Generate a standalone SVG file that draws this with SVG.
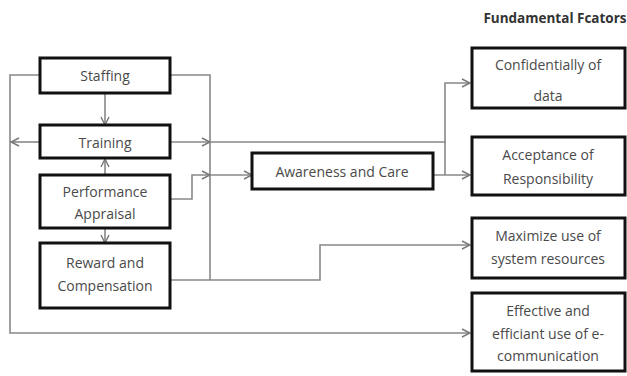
<svg xmlns="http://www.w3.org/2000/svg" width="627" height="376" viewBox="0 0 627 376">
<style>
.box{fill:#fff;stroke:#111;stroke-width:3}
.t{font-family:"Open Sans","Liberation Sans",sans-serif;font-size:14px;fill:#4a4a4a;text-anchor:middle;dominant-baseline:central}
.c{fill:none;stroke:#888;stroke-width:1.6}
</style>
<defs>
<marker id="a" viewBox="0 0 10 10" refX="9" refY="5" markerWidth="10" markerHeight="10" markerUnits="userSpaceOnUse" orient="auto">
<polyline points="1,1 9,5 1,9" fill="none" stroke="#777" stroke-width="1.4"/>
</marker>
</defs>
<rect width="627" height="376" fill="#fff"/>
<text x="555" y="18" class="t" style="font-weight:bold;font-size:13.5px;fill:#333">Fundamental Fcators</text>
<g id="connectors">
<path class="c" d="M40,75 H10 V333 H470" marker-end="url(#a)"/>
<path class="c" d="M40,142 H11" marker-end="url(#a)"/>
<path class="c" d="M170,75 H210 V280"/>
<path class="c" d="M170,280 H320 V245 H470" marker-end="url(#a)"/>
<path class="c" d="M170,142 H210" marker-end="url(#a)"/>
<path class="c" d="M210,142 H445 V83 H470" marker-end="url(#a)"/>
<path class="c" d="M170,199 H192 V175 H210" marker-end="url(#a)"/>
<path class="c" d="M210,175 H252" marker-end="url(#a)"/>
<path class="c" d="M433,175 H470" marker-end="url(#a)"/>
<path class="c" d="M445,142 V175"/>
<path class="c" d="M105,93 V125" marker-end="url(#a)"/>
<path class="c" d="M105,174 V159" marker-end="url(#a)"/>
<path class="c" d="M105,228 V243" marker-end="url(#a)"/>
</g>
<g id="staffing"><rect class="box" x="40" y="58" width="130" height="35"/><text class="t" x="105" y="75">Staffing</text></g>
<g id="training"><rect class="box" x="40" y="125" width="130" height="33"/><text class="t" x="105" y="142">Training</text></g>
<g id="performance"><rect class="box" x="40" y="175" width="130" height="53"/><text class="t" x="105" y="191">Performance</text><text class="t" x="105" y="213">Appraisal</text></g>
<g id="reward"><rect class="box" x="40" y="243" width="130" height="65"/><text class="t" x="105" y="262">Reward and</text><text class="t" x="105" y="285">Compensation</text></g>
<g id="awareness"><rect class="box" x="252" y="153" width="181" height="36"/><text class="t" x="342" y="171">Awareness and Care</text></g>
<g id="confidentially"><rect class="box" x="472" y="48" width="153" height="60"/><text class="t" x="548" y="64">Confidentially of</text><text class="t" x="548" y="95">data</text></g>
<g id="acceptance"><rect class="box" x="472" y="137" width="153" height="58"/><text class="t" x="548" y="154">Acceptance of</text><text class="t" x="548" y="178">Responsibility</text></g>
<g id="maximize"><rect class="box" x="472" y="218" width="153" height="60"/><text class="t" x="548" y="235">Maximize use of</text><text class="t" x="548" y="258">system resources</text></g>
<g id="effective"><rect class="box" x="472" y="293" width="153" height="78"/><text class="t" x="548" y="310">Effective and</text><text class="t" x="548" y="333">efficiant use of e-</text><text class="t" x="548" y="355">communication</text></g>
</svg>
